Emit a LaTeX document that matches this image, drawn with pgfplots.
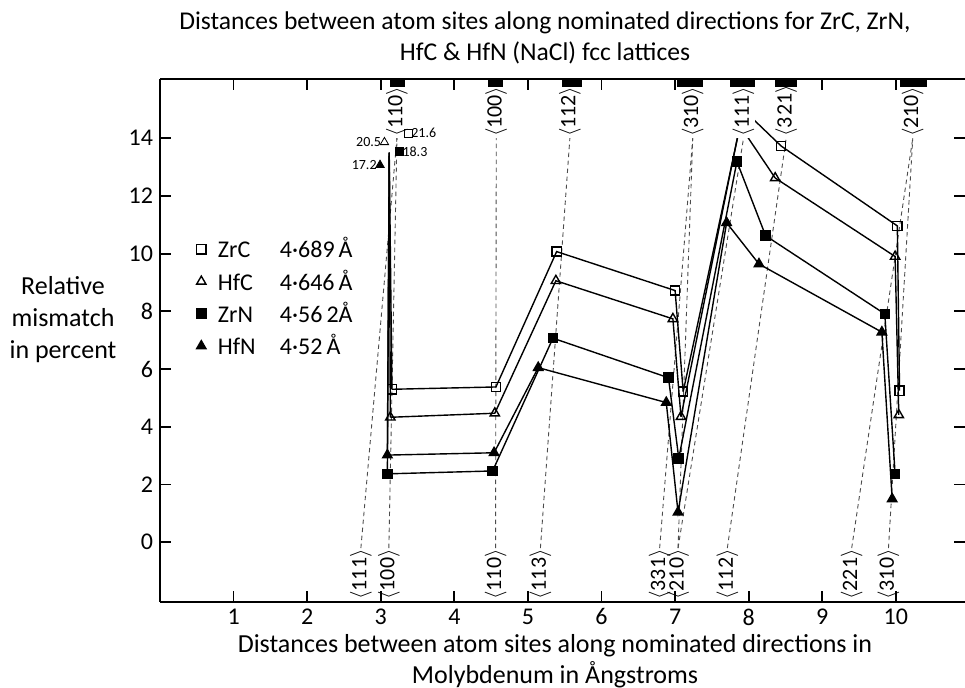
\documentclass[border=0pt]{standalone}
\usepackage{fontspec}
\setmainfont{Carlito}
\usepackage{pgfplots}
\pgfplotsset{compat=1.18}

% guide lines: Mo direction (bottom) -> carbide/nitride direction (top)
\pgfplotsset{
  guide/.style={black!70, line width=0.45bp, dash pattern=on 2.2bp off 1.8bp, forget plot},
  ser/.style={black, line width=0.7bp},
}
\tikzset{
  toplab/.style={rotate=90, anchor=west, inner sep=0.4bp, fill=white,
    font=\fontsize{11bp}{12bp}\selectfont},
  botlab/.style={rotate=90, anchor=east, inner sep=0.4bp,
    font=\fontsize{11bp}{12bp}\selectfont},
}

\begin{document}
\begin{tikzpicture}
\begin{axis}[
  width=402.5bp, height=261.35bp, scale only axis,
  xmin=0, xmax=10.94, ymin=-2.06, ymax=16.05,
  axis x line*=box, axis y line*=left,
  axis line style={line width=1bp,-},
  xtick={1,2,3,4,5,6,7,8,9,10}, ytick={0,2,4,6,8,10,12,14},
  tick align=inside, major tick length=5.5bp,
  tick style={line width=0.9bp, black},
  tick label style={font=\fontsize{12bp}{14bp}\selectfont},
  /pgf/number format/assume math mode=true,
  clip=false, unbounded coords=jump,
  legend style={at={(0.045,0.705)}, anchor=north west, draw=none, fill=none,
    font=\fontsize{12bp}{14bp}\selectfont, row sep=0.5bp, column sep=4bp, inner sep=0pt},
  legend cell align=left,
  legend image code/.code={\draw[mark repeat=2,mark phase=2,#1,only marks]
    plot coordinates {(0cm,0cm) (0.12cm,0cm) (0.24cm,0cm)};},
]
% dashed construction lines
\addplot[guide] coordinates {(2.73,-0.2) (3.22,14.0)};
\addplot[guide] coordinates {(3.11,-0.2) (3.22,14.0)};
\addplot[guide] coordinates {(4.56,-0.2) (4.57,14.0)};
\addplot[guide] coordinates {(5.17,-0.2) (5.57,14.0)};
\addplot[guide] coordinates {(6.79,-0.2) (7.24,14.0)};
\addplot[guide] coordinates {(7.04,-0.2) (7.24,14.0)};
\addplot[guide] coordinates {(7.04,-0.2) (7.93,14.0)};
\addplot[guide] coordinates {(7.71,-0.2) (8.51,14.0)};
\addplot[guide] coordinates {(9.40,-0.2) (10.23,14.0)};
\addplot[guide] coordinates {(9.90,-0.2) (10.23,14.0)};

% runs up to the off-scale <110> values, and peaks hidden under the <111> label
\addplot[ser, forget plot] coordinates {(3.115,13.5) (3.152,5.30)};
\addplot[ser, forget plot] coordinates {(3.115,13.5) (3.13,4.33)};
\addplot[ser, forget plot] coordinates {(3.115,13.5) (3.09,2.37)};
\addplot[ser, forget plot] coordinates {(3.115,13.5) (3.09,3.02)};
\addplot[ser, forget plot] coordinates {(7.11,5.22) (7.93,14.98) (8.44,13.73)};
\addplot[ser, forget plot] coordinates {(7.08,4.35) (7.88,14.44) (8.36,12.62)};

% ZrC
\addplot[ser, mark=square, mark size=2.3bp, mark options={fill=white, solid}]
  coordinates {(3.152,5.30) (4.565,5.38) (5.39,10.07) (7.00,8.72) (7.11,5.22)
  (nan,nan) (8.44,13.73) (10.02,10.96) (10.05,5.25)};
\addlegendentry{\makebox[31bp][l]{ZrC}4·689\,Å}
% HfC
\addplot[ser, mark=triangle, mark size=2.7bp, mark options={fill=white, solid}]
  coordinates {(3.13,4.33) (4.55,4.47) (5.38,9.06) (6.97,7.74) (7.08,4.35)
  (nan,nan) (8.36,12.62) (9.99,9.90) (10.04,4.41)};
\addlegendentry{\makebox[31bp][l]{HfC}4·646\,Å}
% ZrN
\addplot[ser, mark=square*, mark size=2.3bp, mark options={fill=black, solid}]
  coordinates {(3.09,2.37) (4.52,2.47) (5.34,7.07) (6.91,5.70) (7.05,2.91)
  (7.84,13.19) (8.23,10.62) (9.85,7.91) (9.99,2.36)};
\addlegendentry{\makebox[31bp][l]{ZrN}4·56\,2Å}
% HfN
\addplot[ser, mark=triangle*, mark size=2.7bp, mark options={fill=black, solid}]
  coordinates {(3.09,3.02) (4.54,3.10) (5.14,6.05) (6.88,4.84) (7.04,1.04)
  (7.70,11.07) (8.14,9.64) (9.81,7.28) (9.95,1.50)};
\addlegendentry{\makebox[31bp][l]{HfN}4·52\,Å}

% off-scale values for <110>
\addplot[only marks, forget plot, mark=square, mark size=2bp, mark options={fill=white},
  nodes near coords={21.6}, nodes near coords style={anchor=west, inner sep=1.5bp,
  font=\fontsize{7bp}{8bp}\selectfont}] coordinates {(3.37,14.17)};
\addplot[only marks, forget plot, mark=triangle, mark size=2.4bp, mark options={fill=white},
  nodes near coords={20.5}, nodes near coords style={anchor=east, inner sep=1.5bp,
  font=\fontsize{7bp}{8bp}\selectfont}] coordinates {(3.05,13.86)};
\addplot[only marks, forget plot, mark=square*, mark size=2bp,
  nodes near coords={18.3}, nodes near coords style={anchor=west, inner sep=1.5bp,
  font=\fontsize{7bp}{8bp}\selectfont}] coordinates {(3.25,13.53)};
\addplot[only marks, forget plot, mark=triangle*, mark size=2.4bp,
  nodes near coords={17.2}, nodes near coords style={anchor=east, inner sep=1.5bp,
  font=\fontsize{7bp}{8bp}\selectfont}] coordinates {(2.99,13.07)};

% direction labels, top (carbides/nitrides) and bottom (Mo)
\node[toplab] at (axis cs:3.22,14.0) {$\langle$110$\rangle$};
\node[toplab] at (axis cs:4.57,14.0) {$\langle$100$\rangle$};
\node[toplab] at (axis cs:5.57,14.0) {$\langle$112$\rangle$};
\node[toplab] at (axis cs:7.24,14.0) {$\langle$310$\rangle$};
\node[toplab] at (axis cs:7.93,14.0) {$\langle$111$\rangle$};
\node[toplab] at (axis cs:8.51,14.0) {$\langle$3\kern1bp 21$\rangle$};
\node[toplab] at (axis cs:10.23,14.0) {$\langle$210$\rangle$};
\node[botlab] at (axis cs:2.73,-0.2) {$\langle$111$\rangle$};
\node[botlab] at (axis cs:3.11,-0.2) {$\langle$100$\rangle$};
\node[botlab] at (axis cs:4.56,-0.2) {$\langle$110$\rangle$};
\node[botlab] at (axis cs:5.17,-0.2) {$\langle$113$\rangle$};
\node[botlab] at (axis cs:6.79,-0.2) {$\langle$331$\rangle$};
\node[botlab] at (axis cs:7.04,-0.2) {$\langle$210$\rangle$};
\node[botlab] at (axis cs:7.71,-0.2) {$\langle$112$\rangle$};
\node[botlab] at (axis cs:9.40,-0.2) {$\langle$221$\rangle$};
\node[botlab] at (axis cs:9.90,-0.2) {$\langle$310$\rangle$};

% ranges of the compound distances on the top axis
\fill (axis cs:3.13,16.05) rectangle (axis cs:3.33,15.79);
\fill (axis cs:4.46,16.05) rectangle (axis cs:4.66,15.79);
\fill (axis cs:5.46,16.05) rectangle (axis cs:5.73,15.79);
\fill (axis cs:7.02,16.05) rectangle (axis cs:7.38,15.79);
\fill (axis cs:7.74,16.05) rectangle (axis cs:8.08,15.79);
\fill (axis cs:8.36,16.05) rectangle (axis cs:8.65,15.79);
\fill (axis cs:10.05,16.05) rectangle (axis cs:10.43,15.79);

% right-hand ticks (the right spine is cut off in the original)
\pgfplotsinvokeforeach{0,2,4,6,8,10,12,14}{
  \draw[line width=0.9bp] (axis cs:10.94,#1) -- ++(-5.5bp,0pt);}
\end{axis}

% outer texts, placed in pixel units of the reference
\begin{scope}[x=0.5bp, y=-0.5bp, shift={(-80bp,300.85bp)}]
\node[align=center, font=\fontsize{12.8bp}{15.5bp}\selectfont] at (545,38)
  {Distances between atom sites along nominated directions for ZrC, ZrN,\\
   HfC \& HfN (NaCl) fcc lattices};
\node[align=center, font=\fontsize{13bp}{16bp}\selectfont] at (63,320)
  {Relative\\mismatch\\in percent};
\node[align=center, font=\fontsize{13bp}{15.5bp}\selectfont] at (555,661)
  {Distances between atom sites along nominated directions in\\
   Molybdenum in Ångstroms};
\pgfresetboundingbox
\path[use as bounding box] (0,0) rectangle (965,688);
\end{scope}
\end{tikzpicture}
\end{document}
